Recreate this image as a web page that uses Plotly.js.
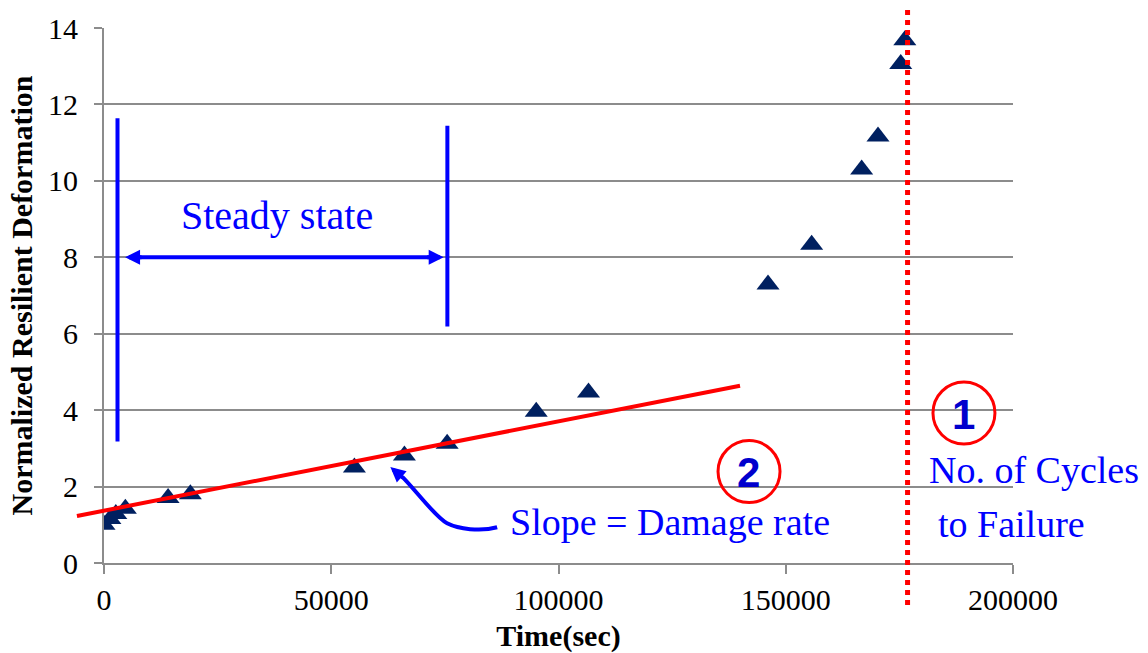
<!DOCTYPE html>
<html>
<head>
<meta charset="utf-8">
<script src="https://cdn.plot.ly/plotly-3.0.1.min.js"></script>
<style>html,body{margin:0;padding:0;background:#fff;}#chart{width:1148px;height:653px;}</style>
</head>
<body>
<div id="chart"></div>
<script>
// ---- data ----
const timeSec = [0, 1300, 2600, 4700, 14100, 19000, 55100, 66100, 75500, 95100, 106600, 146100, 155700, 166700, 170300, 175300, 176200];
const deformation = [1.00, 1.15, 1.28, 1.42, 1.70, 1.80, 2.50, 2.81, 3.12, 3.96, 4.46, 7.29, 8.33, 10.30, 11.16, 13.06, 13.68];
const xTicks = [0, 50000, 100000, 150000, 200000];
const yTicks = [0, 2, 4, 6, 8, 10, 12, 14];
// linear fit (damage rate) drawn over steady state + beyond
const fitIntercept = 1.369;
const fitSlope = 2.337e-5;
const fitRange = [-5950, 139940];
const failureTime = 176800;
const steadyStart = 2970, steadyEnd = 75550;

const xRange = [0, 200000];
const yRange = [0, 14];
const toPaperX = v => (v - xRange[0]) / (xRange[1] - xRange[0]);

const blue = '#0000FF';
const red = '#FF0000';
const serif = 'Liberation Serif, Times New Roman, serif';

const trace = {
  x: timeSec, y: deformation, type: 'scatter', mode: 'markers',
  marker: {symbol: 'triangle-up', size: 20, color: '#002060'},
  hoverinfo: 'x+y', showlegend: false
};

// curved arrow path (data units)
const curve = [[86500,0.936],[82820,0.813],[77970,0.891],[75480,1.041],[73000,1.190],[68720,1.887],[65640,2.254]];
const c = curve.map(p => p[0] + ',' + p[1]);
const curvePath = 'M' + c[0] + ' C' + c[1] + ' ' + c[2] + ' ' + c[3] + ' C' + c[4] + ' ' + c[5] + ' ' + c[6];

const shapes = [
  // fit line
  {type: 'line', xref: 'paper', yref: 'y',
   x0: toPaperX(fitRange[0]), y0: fitIntercept + fitSlope * fitRange[0],
   x1: toPaperX(fitRange[1]), y1: fitIntercept + fitSlope * fitRange[1],
   line: {color: red, width: 4}},
  // failure dotted line
  {type: 'line', xref: 'x', yref: 'paper', x0: failureTime, x1: failureTime, y0: -0.0785, y1: 1.037,
   line: {color: red, width: 5, dash: '5px,5px'}},
  // steady-state bounds
  {type: 'line', xref: 'x', yref: 'y', x0: steadyStart, x1: steadyStart, y0: 3.18, y1: 11.64, line: {color: blue, width: 4}},
  {type: 'line', xref: 'x', yref: 'y', x0: steadyEnd, x1: steadyEnd, y0: 6.19, y1: 11.44, line: {color: blue, width: 4}},
  // double arrow shaft
  {type: 'line', xref: 'x', yref: 'y', x0: 6500, x1: 72800, y0: 8.0, y1: 8.0, line: {color: blue, width: 4}},
  // curved arrow
  {type: 'path', xref: 'x', yref: 'y', path: curvePath, line: {color: blue, width: 4}},
  // circles
  {type: 'circle', xref: 'x', yref: 'y', xsizemode: 'pixel', ysizemode: 'pixel',
   xanchor: 189210, yanchor: 3.924, x0: -31, x1: 31, y0: -31, y1: 31, line: {color: red, width: 3}},
  {type: 'circle', xref: 'x', yref: 'y', xsizemode: 'pixel', ysizemode: 'pixel',
   xanchor: 141920, yanchor: 2.393, x0: -31, x1: 31, y0: -31, y1: 31, line: {color: red, width: 3}}
];

const arrowCommon = {showarrow: true, text: '', arrowhead: 2, arrowsize: 0.75, arrowwidth: 4, arrowcolor: blue, standoff: 0, xref: 'x', yref: 'y'};
const annotations = [
  Object.assign({}, arrowCommon, {x: 4630, y: 8.0, ax: 18, ay: 0}),
  Object.assign({}, arrowCommon, {x: 74740, y: 8.0, ax: -18, ay: 0}),
  Object.assign({}, arrowCommon, {x: 63000, y: 2.509, ax: 14, ay: 12}),
  {xref: 'x', yref: 'y', x: 38040, y: 9.10, text: 'Steady state', showarrow: false,
   font: {family: serif, size: 40, color: blue}, xanchor: 'center', yanchor: 'middle'},
  {xref: 'x', yref: 'y', x: 124490, y: 1.072, text: 'Slope = Damage rate', showarrow: false,
   font: {family: serif, size: 38, color: blue}, xanchor: 'center', yanchor: 'middle'},
  {xref: 'x', yref: 'y', x: 181060, y: 2.427, text: 'No. of Cycles', showarrow: false,
   font: {family: serif, size: 38, color: blue}, xanchor: 'left', yanchor: 'middle'},
  {xref: 'x', yref: 'y', x: 183040, y: 1.028, text: 'to Failure', showarrow: false,
   font: {family: serif, size: 38, color: blue}, xanchor: 'left', yanchor: 'middle'},
  {xref: 'x', yref: 'y', x: 189210, y: 3.879, text: '<b>1</b>', showarrow: false,
   font: {family: 'Liberation Sans, Arial, sans-serif', size: 42, color: '#0000CD'}, xanchor: 'center', yanchor: 'middle'},
  {xref: 'x', yref: 'y', x: 141850, y: 2.372, text: '<b>2</b>', showarrow: false,
   font: {family: 'Liberation Sans, Arial, sans-serif', size: 42, color: '#0000CD'}, xanchor: 'center', yanchor: 'middle'}
];

const gray = '#8c8c8c';
const layout = {
  width: 1148, height: 653,
  margin: {l: 104, r: 135, t: 28, b: 90, pad: 0},
  paper_bgcolor: '#fff', plot_bgcolor: '#fff',
  showlegend: false,
  font: {family: serif, color: '#000'},
  xaxis: {
    range: xRange, tickvals: xTicks, ticktext: xTicks.map(String),
    showgrid: false, zeroline: false, showline: true, linecolor: gray, linewidth: 2,
    ticks: 'outside', ticklen: 9, tickwidth: 2, tickcolor: gray,
    tickfont: {family: serif, size: 30, color: '#000'}, ticklabelstandoff: 0,
    title: {text: '<b>Time(sec)</b>', font: {family: serif, size: 30, color: '#000'}, standoff: 28},
    automargin: false, fixedrange: true
  },
  yaxis: {
    range: yRange, tickvals: yTicks, ticktext: yTicks.map(String),
    showgrid: true, gridcolor: gray, gridwidth: 2, zeroline: false,
    showline: true, linecolor: gray, linewidth: 2,
    ticks: 'outside', ticklen: 8, tickwidth: 2, tickcolor: gray,
    tickfont: {family: serif, size: 30, color: '#000'}, ticklabelstandoff: 10,
    title: {text: '<b>Normalized Resilient Deformation</b>', font: {family: serif, size: 30, color: '#000'}, standoff: 7},
    automargin: false, fixedrange: true
  },
  shapes: shapes,
  annotations: annotations
};

Plotly.newPlot('chart', [trace], layout, {displayModeBar: false, staticPlot: true});
</script>
</body>
</html>
